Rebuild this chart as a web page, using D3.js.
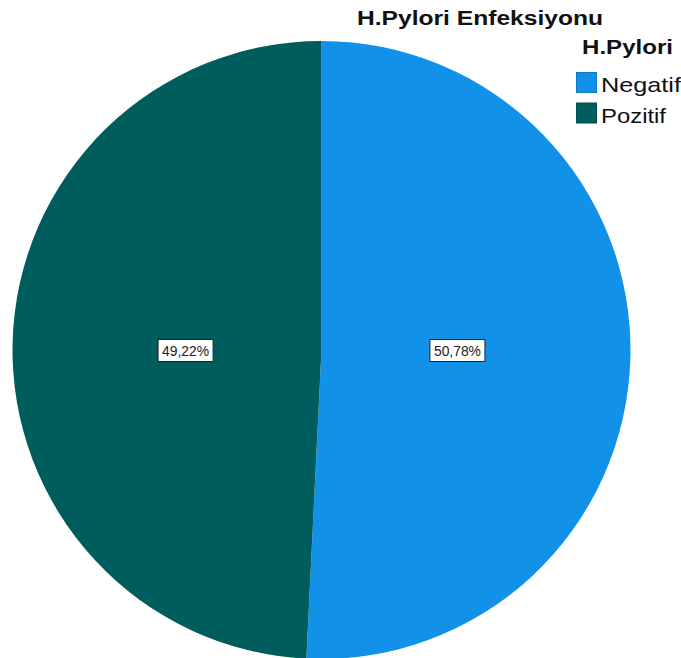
<!DOCTYPE html>
<html>
<head>
<meta charset="utf-8">
<script src="https://cdn.jsdelivr.net/npm/d3@7"></script>
<style>
  body { margin: 0; background: #fff; }
  svg { display: block; }
  text { font-family: Arial, "Liberation Sans", sans-serif; }
</style>
</head>
<body>
<svg id="svg"></svg>
<script>
var width = 681,
    height = 658

// veriler
var categories = ["Negatif", "Pozitif"]
var values = [50.78, 49.22]
var colors = ["#1192e8", "#005d5d"]
var labels = ["50,78%", "49,22%"]

var svg = d3.select("svg")
    .attr("width", width)
    .attr("height", height)

var cx = 321.5, cy = 350, r = 309

var pie = d3.pie().sort(null).value(function(d) { return d })
var arcs = pie(values)

var arc = d3.arc().innerRadius(0).outerRadius(r)
var labelArc = d3.arc().innerRadius(r * 0.44).outerRadius(r * 0.44)

var color = d3.scaleOrdinal().domain(categories).range(colors)

var g = svg.append("g").attr("transform", "translate(" + cx + "," + cy + ")")

g.selectAll("path")
  .data(arcs)
  .enter().append("path")
  .attr("d", arc)
  .attr("fill", function(d, i) { return color(categories[i]) })

// dilim etiketleri (yatayda merkeze hizalı)
var lab = g.selectAll("g.lab")
  .data(arcs)
  .enter().append("g")
  .attr("class", "lab")
  .attr("transform", function(d) {
    var c = labelArc.centroid(d)
    return "translate(" + c[0] + ",1)"
  })

lab.append("rect")
  .attr("x", -27.5).attr("y", -11.5)
  .attr("width", 55).attr("height", 22)
  .attr("fill", "#fff")
  .attr("stroke", "#222")
  .attr("stroke-width", 1)

lab.append("text")
  .attr("text-anchor", "middle")
  .attr("y", 5)
  .attr("font-size", 14)
  .attr("textLength", 47)
  .attr("lengthAdjust", "spacingAndGlyphs")
  .attr("fill", "#222")
  .text(function(d, i) { return labels[i] })

// başlık
svg.append("text")
  .attr("x", 357).attr("y", 25)
  .attr("font-size", 20)
  .attr("font-weight", "bold")
  .attr("textLength", 246)
  .attr("lengthAdjust", "spacingAndGlyphs")
  .attr("fill", "#111")
  .text("H.Pylori Enfeksiyonu")

// lejant
svg.append("text")
  .attr("x", 582).attr("y", 54)
  .attr("font-size", 21)
  .attr("font-weight", "bold")
  .attr("textLength", 91)
  .attr("lengthAdjust", "spacingAndGlyphs")
  .attr("fill", "#111")
  .text("H.Pylori")

var legendLengths = [80, 65]
var leg = svg.selectAll("g.leg")
  .data(categories)
  .enter().append("g")
  .attr("class", "leg")
  .attr("transform", function(d, i) { return "translate(576," + (72 + i * 30.5) + ")" })

leg.append("rect")
  .attr("x", 0.5).attr("y", 0.5)
  .attr("width", 20).attr("height", 20)
  .attr("fill", function(d) { return color(d) })
  .attr("stroke", function(d) { return d3.color(color(d)).darker(0.5) })

leg.append("text")
  .attr("x", 25).attr("y", 20)
  .attr("font-size", 21)
  .attr("textLength", function(d, i) { return legendLengths[i] })
  .attr("lengthAdjust", "spacingAndGlyphs")
  .attr("fill", "#111")
  .text(function(d) { return d })
</script>
</body>
</html>
